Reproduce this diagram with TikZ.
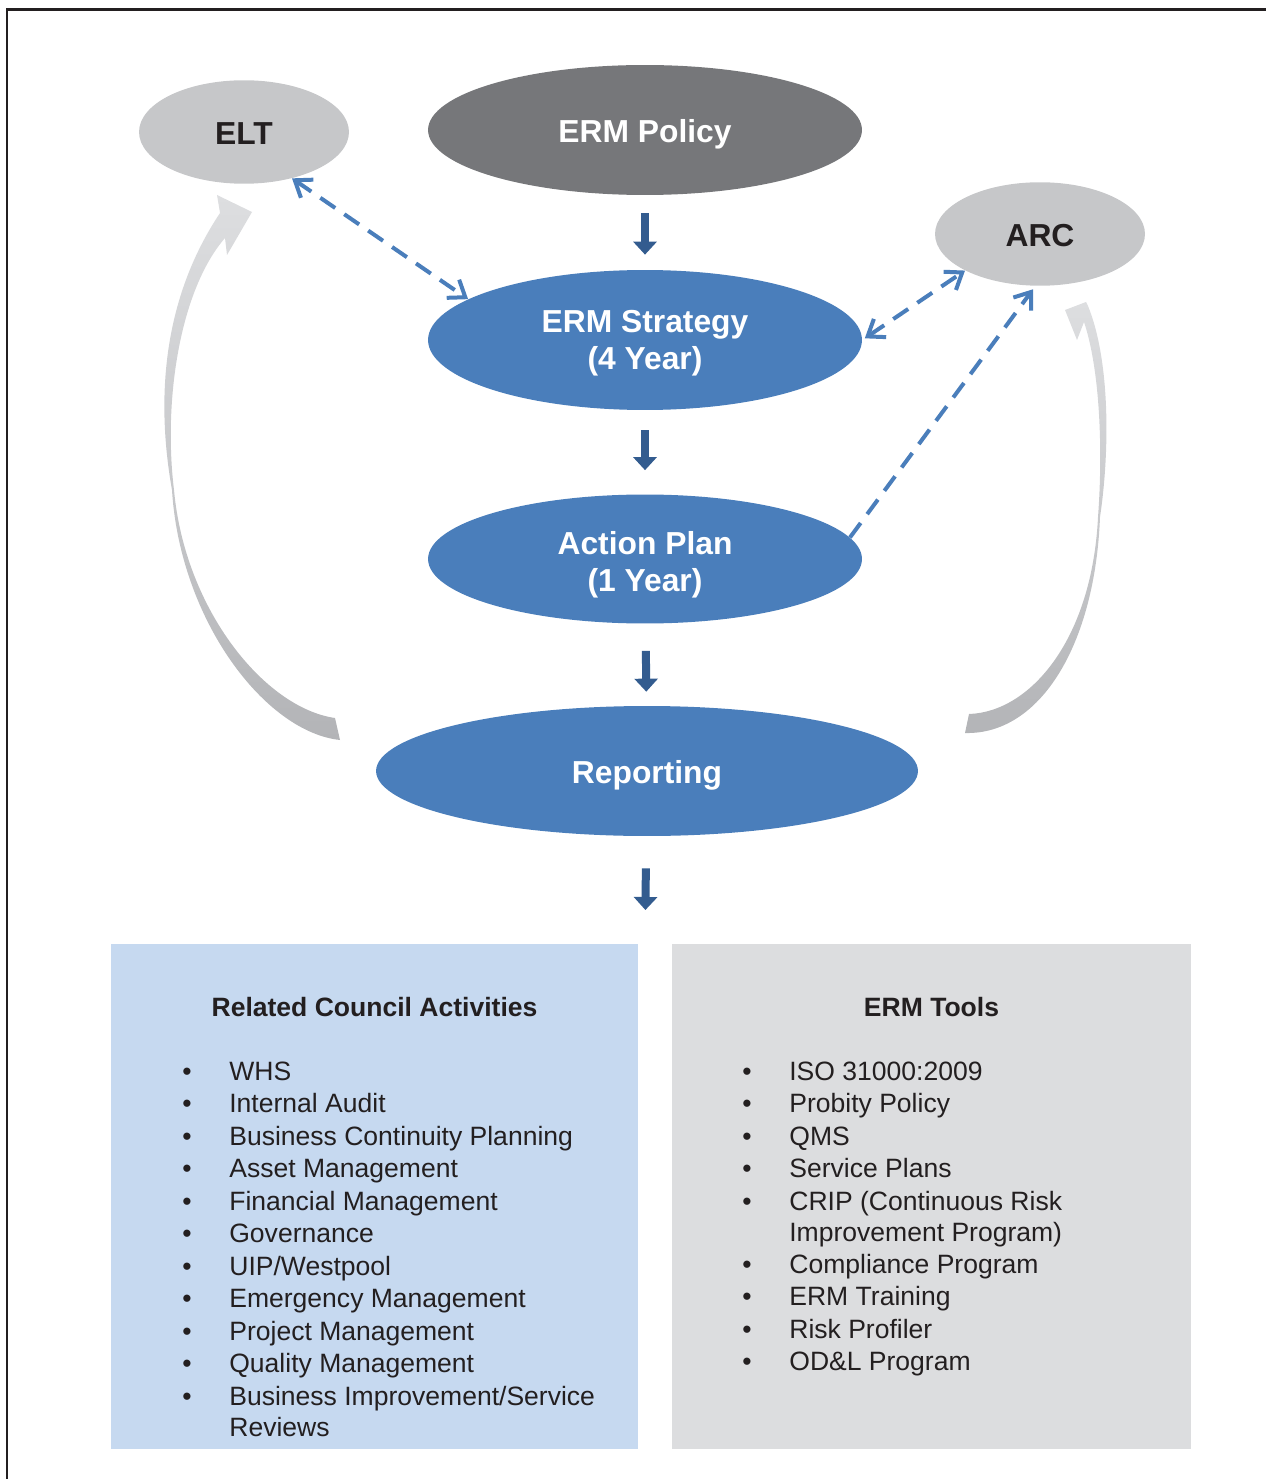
\documentclass[tikz,border=0pt]{standalone}
\usepackage{fontspec}
\setmainfont{Liberation Sans}
\usetikzlibrary{
	arrows.meta,
	shapes.geometric,
	positioning
}
\definecolor{ermblue}{HTML}{4A7EBB}
\definecolor{ermdark}{HTML}{335C8F}
\definecolor{policygray}{HTML}{76777A}
\definecolor{ellgray}{HTML}{C6C7C9}
\definecolor{actblue}{HTML}{C6D9F0}
\definecolor{toolgray}{HTML}{DCDDDF}
\definecolor{inkblack}{HTML}{231F20}
\definecolor{curvelight}{HTML}{DDDEE0}
\definecolor{curvedark}{HTML}{B3B4B7}
\tikzset{
	>={Straight Barb[length=0.3cm,width=0.44cm]},
	frameline/.style={draw=inkblack, line width=0.06cm},
	ellbase/.style={ellipse, inner sep=0pt, align=center, font=\fontsize{18.1}{21}\selectfont\bfseries},
	oneline/.style={text height=14pt, text depth=0pt},
	blueell/.style={ellbase, fill=ermblue, text=white, minimum width=8.68cm},
	policyell/.style={ellbase, oneline, fill=policygray, text=white, minimum width=8.68cm, minimum height=2.6cm},
	grayell/.style={ellbase, oneline, fill=ellgray, text=inkblack, minimum width=4.2cm, minimum height=2.07cm},
	downarrow/.style={draw=ermdark, line width=0.16cm, -{Triangle[width=0.46cm,length=0.26cm]}},
	linkarrow/.style={draw=ermblue, line width=0.08cm, dash pattern=on 0.36cm off 0.22cm},
	boxnode/.style={rectangle, inner sep=0pt, minimum height=10.1cm},
	titletext/.style={anchor=base, inner sep=0pt, text=inkblack, font=\fontsize{15.1}{17}\selectfont\bfseries},
	itemtext/.style={anchor=base west, inner sep=0pt, text=inkblack, font=\fontsize{15.1}{17}\selectfont},
	bulletmark/.style={anchor=base, inner sep=0pt, text=inkblack, font=\fontsize{15.1}{17}\selectfont}
}
\begin{document}
\begin{tikzpicture}[x=0.02cm, y=-0.02cm]
	\useasboundingbox (0,0) rectangle (1266,1479);
	\draw[frameline] (7,1479) -- (7,10) -- (1266,10);

	% curved return arrows
	\shade[top color=curvelight, bottom color=curvedark]
		(340,740) .. controls (265,732) and (180,620) .. (172,490)
		.. controls (156,400) and (162,300) .. (220,213)
		-- (217,195) -- (252,212) -- (227,255) -- (225,238)
		.. controls (180,290) and (163,400) .. (174,490)
		.. controls (185,610) and (265,708) .. (335,718) -- cycle;
	\shade[top color=curvelight, bottom color=curvedark]
		(965,733) .. controls (1040,735) and (1095,645) .. (1100,517)
		.. controls (1110,450) and (1110,360) .. (1088,306)
		-- (1086,302) -- (1065,310) -- (1077,340) -- (1084,322)
		.. controls (1100,370) and (1103,450) .. (1098,517)
		.. controls (1092,640) and (1030,712) .. (969,714) -- cycle;

	\node[grayell] (elt) at (244,132) {ELT};
	\node[policyell] (policy) at (645,130) {ERM Policy};
	\node[grayell] (arc) at (1040,234) {ARC};
	\node[blueell, minimum height=2.8cm] (strategy) at (645,340) {\rule{0pt}{16.6pt}ERM Strategy\\(4 Year)};
	\node[blueell, minimum height=2.58cm] (action) at (645,559) {\rule{0pt}{20pt}Action Plan\\(1 Year)};
	\node[blueell, oneline, minimum width=10.84cm, minimum height=2.6cm] (report) at (647,771) {Reporting};

	\node[boxnode, fill=actblue, minimum width=10.54cm] (acts) at (374.5,1196.5) {};
	\node[boxnode, fill=toolgray, minimum width=10.38cm] (tools) at (931.5,1196.5) {};
	\coordinate (gap) at (645,944);

	\draw[downarrow, shorten <=0.36cm, shorten >=0.3cm] (policy) -- (strategy);
	\draw[downarrow, shorten <=0.4cm, shorten >=0.48cm] (strategy) -- (action);
	\draw[downarrow, shorten <=0.54cm, shorten >=0.28cm] (action) -- (report);
	\draw[downarrow, shorten <=0.64cm, shorten >=0.68cm] (report) -- (gap);

	\draw[linkarrow, <->] (elt.-44) -- (strategy.167);
	\draw[linkarrow, <->, shorten <=0.06cm] (strategy.east) -- (arc.206);
	\draw[linkarrow, ->, shorten >=0.08cm] (action.6.5) -- (arc.265);

	% lists
	\node[titletext] (actstitle) at (374.5,1016) {Related Council Activities};
	\node[titletext] (toolstitle) at (931.5,1016) {ERM Tools};

	\foreach \y/\txt [count=\i] in {1080/WHS, 1112.5/Internal Audit,
		1145/Business Continuity Planning, 1177.5/Asset Management,
		1210/Financial Management, 1242.5/Governance, 1275/{UIP/Westpool},
		1307.5/Emergency Management, 1340/Project Management,
		1372.5/Quality Management, 1405/{Business Improvement/Service}} {
		\node[bulletmark] (actb\i) at (187,\y) {\textbullet};
		\node[itemtext] (act\i) at (229,\y) {\txt};
	}
	\node[itemtext] (actwrap) at (229,1436) {Reviews};

	\foreach \y/\txt [count=\i] in {1080/ISO 31000:2009, 1112.5/Probity Policy,
		1145/QMS, 1177.5/Service Plans, 1210/CRIP (Continuous Risk,
		1273/Compliance Program, 1305.5/ERM Training, 1338/Risk Profiler,
		1370/OD\&L Program} {
		\node[bulletmark] (toolb\i) at (747,\y) {\textbullet};
		\node[itemtext] (tool\i) at (789,\y) {\txt};
	}
	\node[itemtext] (toolwrap) at (789,1241) {Improvement Program)};
\end{tikzpicture}
\end{document}
